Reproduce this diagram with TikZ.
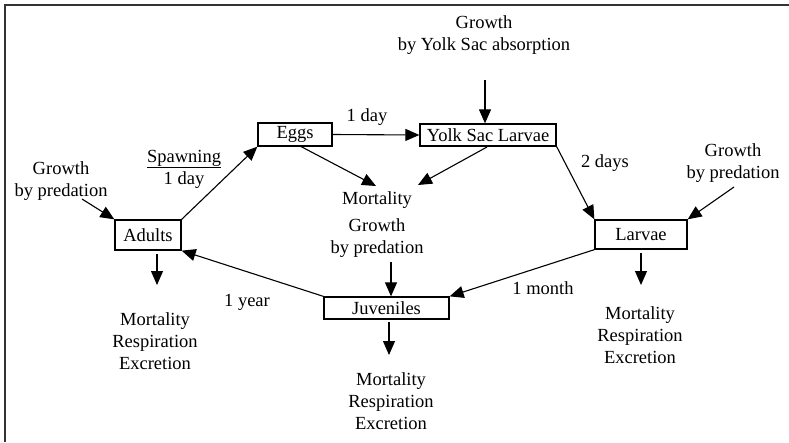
\documentclass[tikz,border=0pt]{standalone}
\usepackage{fontspec}
\setmainfont{Liberation Serif}
\usetikzlibrary{arrows.meta}
\newcommand\dfont{\fontsize{18.5}{22}\selectfont}
\begin{document}
\begin{tikzpicture}[x=1pt,y=-1pt,
 box/.style={draw,line width=1.3pt,inner sep=0pt,font=\dfont},
 lab/.style={inner sep=0pt,align=center,font=\dfont},
 arr/.style={line width=1.1pt,-{Triangle[length=14pt,width=12pt]}},
 ]
\useasboundingbox (0,0) rectangle (789,442);
\draw[line width=2pt,color=black!80] (5,442) -- (5,5) -- (789,5);
% boxes
\node[box,minimum width=74pt,minimum height=23pt] (eggs) at (295,134.5) {Eggs};
\node[box,minimum width=136pt,minimum height=22pt] (yolk) at (488,135) {Yolk Sac Larvae};
\node[box,minimum width=66pt,minimum height=30pt] (adults) at (148,235) {Adults};
\node[box,minimum width=92pt,minimum height=29pt] (larvae) at (641,234.5) {Larvae};
\node[box,minimum width=125pt,minimum height=22pt] (juv) at (386.5,308) {Juveniles};
% texts
\node[lab] (gl) at (61,181) {Growth\\by predation};
\node[lab] (gr) at (733,163) {Growth\\by predation};
\node[lab] (gm) at (377,238) {Growth\\by predation};
\node[lab] (gy) at (484,35) {Growth\\by Yolk Sac absorption};
\node[lab] (mort) at (377,200) {Mortality};
\node[lab] (ma) at (155,341) {Mortality\\Respiration\\Excretion};
\node[lab] (mj) at (391,401) {Mortality\\Respiration\\Excretion};
\node[lab] (ml) at (640,335) {Mortality\\Respiration\\Excretion};
\node[lab] (spawn) at (184,169) {\underline{Spawning}\\1 day};
\node[lab] (d1) at (367,117) {1 day};
\node[lab] (d2) at (605,163) {2 days};
\node[lab] (m1) at (543,288) {1 month};
\node[lab] (y1) at (247,302) {1 year};
% free ends
\coordinate (glx) at (82,199);
\coordinate (grx) at (734,187);
\coordinate (gmx) at (391,262);
\coordinate (gyx) at (485,80);
\coordinate (eb) at (300,146);
\coordinate (yb) at (487,147);
\coordinate (mtl) at (376,186);
\coordinate (mtr) at (418,185);
\coordinate (ad1) at (157,254);
\coordinate (ad2) at (157,285);
\coordinate (jd1) at (389,322);
\coordinate (jd2) at (389,355);
\coordinate (ld1) at (641,253);
\coordinate (ld2) at (641,285);
% connectors
\draw[arr] (glx) -- (adults.north west);
\draw[arr] (adults.north east) -- (eggs.south west);
\draw[arr] (eggs.east) -- (yolk.west);
\draw[arr] (gyx) -- (gyx |- yolk.north);
\draw[arr] (eb) -- (mtl);
\draw[arr] (yb) -- (mtr);
\draw[arr] (yolk.south east) -- (larvae.north west);
\draw[arr] (grx) -- (larvae.north east);
\draw[arr] (larvae.south west) -- (juv.north east);
\draw[arr] (juv.north west) -- (adults.south east);
\draw[arr] (gmx) -- (gmx |- juv.north);
\draw[arr] (ad1) -- (ad2);
\draw[arr] (jd1) -- (jd2);
\draw[arr] (ld1) -- (ld2);
\end{tikzpicture}
\end{document}
